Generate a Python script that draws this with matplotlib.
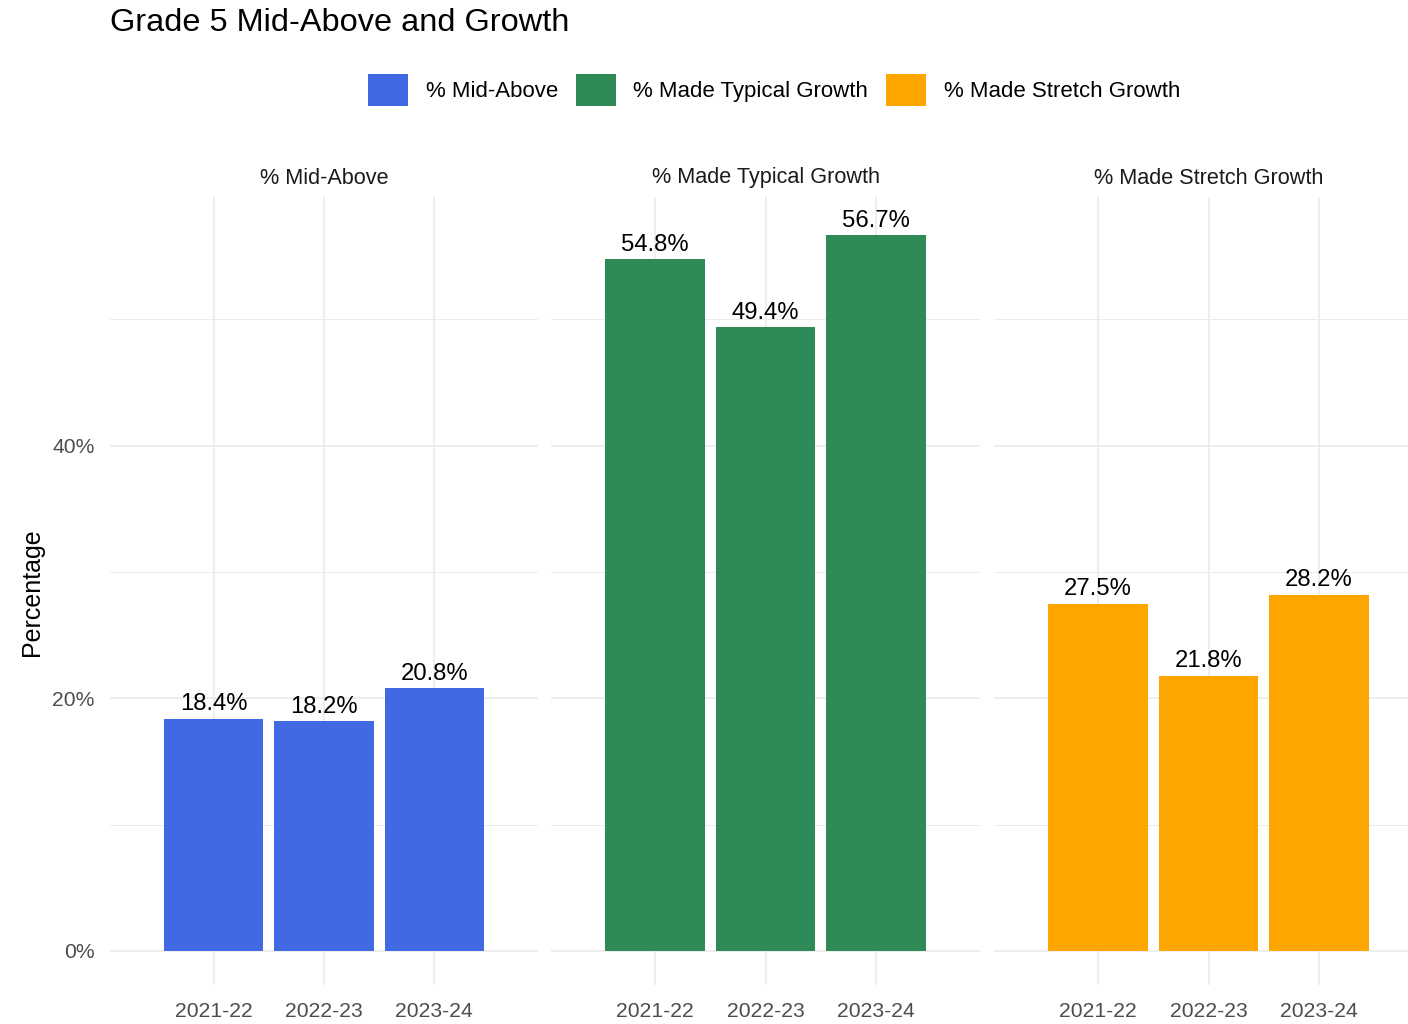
import matplotlib
matplotlib.use("Agg")
import matplotlib.pyplot as plt
from matplotlib.patches import Patch
from matplotlib.ticker import FixedLocator, FuncFormatter

plt.rcParams['font.family'] = ['Liberation Sans', 'DejaVu Sans']

# --- data ---
years = ['2021-22', '2022-23', '2023-24']
metrics = ['% Mid-Above', '% Made Typical Growth', '% Made Stretch Growth']
mid_above = [18.4, 18.2, 20.8]
typical_growth = [54.8, 49.4, 56.7]
stretch_growth = [27.5, 21.8, 28.2]
colors = ['#4169E1', '#2E8B57', '#FFA500']

series = [mid_above, typical_growth, stretch_growth]

W, H = 1408, 1024
fig = plt.figure(figsize=(W / 100, H / 100), dpi=100)

# panel pixel extents (left, right)
panels = [(110, 538), (551, 980), (994, 1423)]
top_px, bot_px = 197, 985

grid_col = '#EBEBEB'
for i, ((l, r), vals, col, name) in enumerate(zip(panels, series, colors, metrics)):
    ax = fig.add_axes([l / W, 1 - bot_px / H, (r - l) / W, (bot_px - top_px) / H])
    x = range(1, len(years) + 1)
    ax.bar(x, vals, width=0.9, color=col, zorder=2)
    for xi, v in zip(x, vals):
        ax.annotate(f"{v:.1f}%", (xi, v), xytext=(0, 6), textcoords='offset points',
                    ha='center', va='baseline', fontsize=17.2, color='black', zorder=3)
    ax.set_xlim(0.06, 3.94)
    ax.set_ylim(-2.7, 59.7)
    ax.set_xticks(list(x))
    ax.set_xticklabels(years)
    ax.yaxis.set_major_locator(FixedLocator([0, 20, 40]))
    ax.yaxis.set_minor_locator(FixedLocator([10, 30, 50]))
    ax.yaxis.set_major_formatter(FuncFormatter(lambda v, p: f"{v:.0f}%"))
    ax.grid(True, which='major', color=grid_col, lw=1.2, zorder=0)
    ax.grid(True, which='minor', axis='y', color=grid_col, lw=0.7, zorder=0)
    ax.set_axisbelow(True)
    ax.tick_params(axis='both', which='both', length=0, labelsize=15.2, labelcolor='#4D4D4D')
    ax.tick_params(axis='x', pad=12)
    ax.tick_params(axis='y', pad=11)
    if i > 0:
        ax.tick_params(axis='y', labelleft=False)
    for s in ax.spines.values():
        s.set_visible(False)
    fig.text(((l + r) / 2) / W, 1 - 178 / H, name, ha='center', va='center',
             fontsize=15.6, color='#1A1A1A')

fig.text(110 / W, 1 - 23 / H, 'Grade 5 Mid-Above and Growth', ha='left', va='center',
         fontsize=23.4, color='black')
fig.text(32 / W, 1 - 592 / H, 'Percentage', rotation=90, ha='center', va='center',
         fontsize=18, color='black')

handles = [Patch(facecolor=c, edgecolor='none', label=m) for c, m in zip(colors, metrics)]
fig.legend(handles=handles, loc='center', bbox_to_anchor=(774 / W, 1 - 90 / H), ncol=3,
           frameon=False, fontsize=16, handlelength=1.8, handleheight=1.8,
           handletextpad=0.8, columnspacing=0.8)

fig.savefig('out.png', dpi=100)
